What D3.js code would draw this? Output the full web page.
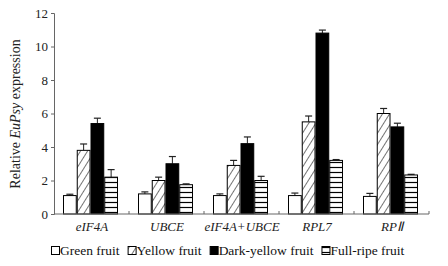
<!DOCTYPE html>
<html>
<head>
<meta charset="utf-8">
<script src="https://cdn.jsdelivr.net/npm/d3@7"></script>
<style>
  html, body { margin: 0; padding: 0; background: #fff; }
  svg { display: block; }
</style>
</head>
<body>
<svg id="chart"></svg>
<script>
// Data
const genes = ["eIF4A", "UBCE", "eIF4A+UBCE", "RPL7", "RPⅡ"];
const stages = ["Green fruit", "Yellow fruit", "Dark-yellow fruit", "Full-ripe fruit"];
const green     = [1.1, 1.2, 1.1, 1.1, 1.05];
const yellow    = [3.8, 2.0, 2.9, 5.5, 6.0];
const darkYel   = [5.4, 3.0, 4.2, 10.8, 5.2];
const fullRipe  = [2.2, 1.75, 2.0, 3.2, 2.33];
const errGreen  = [0.08, 0.12, 0.1, 0.15, 0.18];
const errYellow = [0.38, 0.2, 0.3, 0.35, 0.3];
const errDark   = [0.32, 0.43, 0.4, 0.18, 0.22];
const errFull   = [0.45, 0.05, 0.25, 0.05, 0.04];
const yTicks = [0, 2, 4, 6, 8, 10, 12];

const values = [green, yellow, darkYel, fullRipe];
const errors = [errGreen, errYellow, errDark, errFull];

const W = 448, H = 266;
const FONT = "Liberation Serif";

const svg = d3.select("#chart").attr("width", W).attr("height", H)
  .attr("font-family", FONT);

const defs = svg.append("defs");
// diagonal hatch for yellow fruit
const hatch = defs.append("pattern")
  .attr("id", "hatch").attr("patternUnits", "userSpaceOnUse")
  .attr("width", 6).attr("height", 6)
  .attr("patternTransform", "rotate(32)");
hatch.append("rect").attr("width", 6).attr("height", 6).attr("fill", "#fff");
hatch.append("line").attr("x1", 0).attr("y1", 0).attr("x2", 0).attr("y2", 6)
  .attr("stroke", "#000").attr("stroke-width", 1.1);
// horizontal lines for full-ripe fruit
const hlines = defs.append("pattern")
  .attr("id", "hlines").attr("patternUnits", "userSpaceOnUse")
  .attr("width", 6).attr("height", 5);
hlines.append("rect").attr("width", 6).attr("height", 5).attr("fill", "#fff");
hlines.append("line").attr("x1", 0).attr("y1", 2.5).attr("x2", 6).attr("y2", 2.5)
  .attr("stroke", "#000").attr("stroke-width", 1.2);

const fills = ["#fff", "url(#hatch)", "#000", "url(#hlines)"];

// Scales
const x0 = d3.scaleBand().domain(genes).range([54, 429]).paddingInner(0).paddingOuter(0);
const x1 = d3.scaleBand().domain(d3.range(4)).range([9, 64]).padding(0);
const y = d3.scaleLinear().domain([0, 12]).range([214, 13]);

// Bars
genes.forEach((gname, gi) => {
  const grp = svg.append("g").attr("transform", `translate(${x0(gname)},0)`);
  stages.forEach((s, si) => {
    const v = values[si][gi], e = errors[si][gi];
    const bx = x1(si), bw = x1.bandwidth();
    const cx = bx + bw / 2;
    // error bar (upper only)
    grp.append("line")
      .attr("x1", cx).attr("x2", cx)
      .attr("y1", y(v)).attr("y2", y(v + e))
      .attr("stroke", "#222").attr("stroke-width", 1);
    grp.append("line")
      .attr("x1", cx - 3.5).attr("x2", cx + 3.5)
      .attr("y1", y(v + e)).attr("y2", y(v + e))
      .attr("stroke", "#222").attr("stroke-width", 1.2);
    grp.append("rect")
      .attr("x", bx + 0.5).attr("y", y(v))
      .attr("width", bw - 1).attr("height", y(0) - y(v))
      .attr("fill", fills[si])
      .attr("stroke", "#000").attr("stroke-width", 1);
  });
});

// Y axis
const yAx = svg.append("g")
  .attr("transform", "translate(54,0)")
  .call(d3.axisLeft(y).tickValues(yTicks).tickSize(3).tickPadding(3))
  .attr("font-family", FONT).attr("font-size", 13);
yAx.select(".domain").attr("stroke", "#666");
yAx.selectAll(".tick line").attr("stroke", "#666");
yAx.selectAll(".tick text").attr("fill", "#222");

// X axis: boundary ticks pointing up
const xAx = svg.append("g");
xAx.append("line")
  .attr("x1", 54).attr("x2", 429)
  .attr("y1", y(0)).attr("y2", y(0))
  .attr("stroke", "#666");
genes.forEach(gname => {
  const bx = x0(gname) + x0.bandwidth();
  xAx.append("line")
    .attr("x1", bx).attr("x2", bx)
    .attr("y1", y(0)).attr("y2", y(0) - 3)
    .attr("stroke", "#666");
  xAx.append("text")
    .attr("x", x0(gname) + x0.bandwidth() / 2 + 0.5).attr("y", 231)
    .attr("text-anchor", "middle")
    .attr("font-size", 13).attr("font-style", "italic")
    .attr("fill", "#222")
    .text(gname);
});

// Y axis title
const yt = svg.append("text")
  .attr("transform", "translate(20,114) rotate(-90)")
  .attr("text-anchor", "middle")
  .attr("font-size", 14)
  .attr("fill", "#222");
yt.append("tspan").text("Relative ");
yt.append("tspan").attr("font-style", "italic").text("EuPsy");
yt.append("tspan").text(" expression");

// Legend
const leg = svg.append("g");
let lx = 51;
const ly = 255;
stages.forEach((s, si) => {
  leg.append("rect")
    .attr("x", lx + 0.5).attr("y", ly - 8.5)
    .attr("width", 8).attr("height", 8)
    .attr("fill", fills[si]).attr("stroke", "#000").attr("stroke-width", 1);
  const t = leg.append("text")
    .attr("x", lx + 9).attr("y", ly)
    .attr("font-size", 13.5)
    .attr("fill", "#111")
    .text(s);
  lx += 9 + t.node().getComputedTextLength() + 8;
});
</script>
</body>
</html>
